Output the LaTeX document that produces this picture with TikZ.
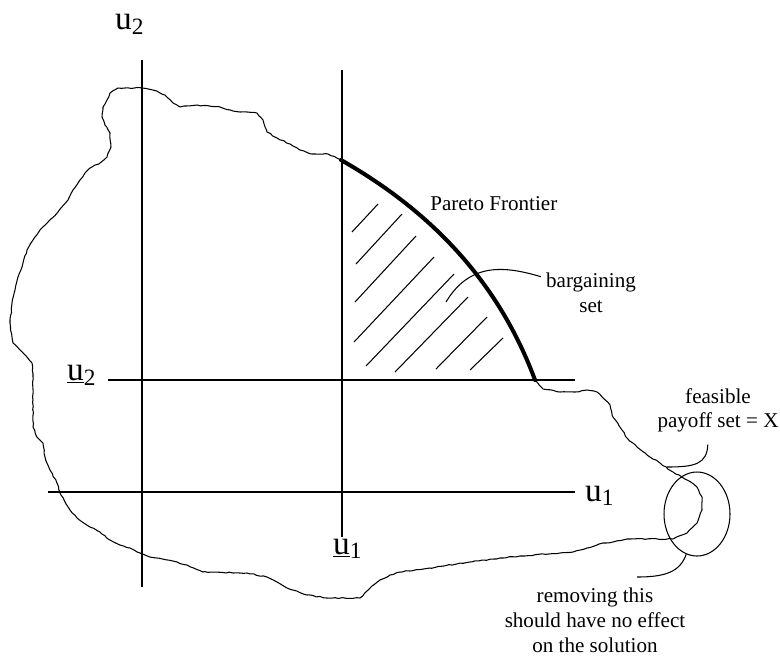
\documentclass[tikz,border=0pt]{standalone}
\usepackage{fontspec}
\setmainfont{Liberation Serif}
\usetikzlibrary{shapes.geometric,decorations.pathmorphing}

\begin{document}
\begin{tikzpicture}[x=0.02cm, y=-0.02cm,
    axis/.style={line width=0.7pt},
    outline/.style={line width=0.6pt, line join=round,
      decorate, decoration={random steps, segment length=2pt, amplitude=0.3pt}},
    frontier/.style={line width=2.3pt, line cap=round},
    hatch/.style={line width=0.6pt},
    leader/.style={line width=0.6pt},
    lbl/.style={font=\fontsize{12}{14}\selectfont, align=center, inner sep=1pt, outer sep=2pt},
    ulbl/.style={font=\fontsize{19}{22}\selectfont, inner sep=1pt}]
  \useasboundingbox (0,0) rectangle (780,657);
  \pgfmathsetseed{7}

  % axes and the disagreement point
  \coordinate (v1top) at (142,60);  \coordinate (v1bot) at (142,587);
  \coordinate (v2top) at (342,70);  \coordinate (v2bot) at (342,537);
  \coordinate (h1left) at (108,380); \coordinate (h1right) at (575,380);
  \coordinate (h2left) at (48,492);  \coordinate (h2right) at (575,492);
  \draw[axis] (v1top) -- (v1bot);
  \draw[axis] (v2top) -- (v2bot);
  \draw[axis] (h1left) -- (h1right);
  \draw[axis] (h2left) -- (h2right);

  % feasible set X
  \coordinate (pA) at (341,160);
  \coordinate (pB) at (535,380);
  \draw[outline] (pB) -- plot coordinates {(543,389) (560,392) (575,392) (587,390)
    (597,392) (603,398) (610,405) (613,417) (622,430) (627,438) (637,447)
    (647,455) (660,463) (673,472) (687,480) (697,487) (702,497) (702,510)
    (697,523) (687,533) (673,539) (627,539) (613,542) (603,543) (587,548)
    (573,552) (560,553) (520,556) (500,558) (470,562) (430,568) (400,572)
    (390,575) (380,580) (370,588) (360,598) (327,598) (307,595) (287,588)
    (277,582) (267,577) (247,573) (203,572) (187,565) (173,561) (150,557)
    (140,553) (130,548) (120,545) (110,540) (100,532) (90,527) (77,518)
    (70,510) (60,493) (57,483) (50,470) (45,457) (43,443) (37,437) (33,427)
    (33,400) (33,377) (32,363) (27,357) (20,350) (13,343) (12,337) (10,323)
    (12,303) (15,290) (18,277) (23,263) (27,250) (33,240) (40,230) (48,222)
    (58,212) (68,200) (73,190) (80,180) (85,173) (92,167) (100,163) (107,157)
    (111,147) (110,133) (105,125) (102,117) (103,107) (107,100) (110,93)
    (118,88) (142,88) (153,90) (165,95) (173,103) (180,107) (197,105)
    (220,107) (233,111) (257,113) (263,120) (267,132) (277,138) (290,144)
    (300,150) (312,154) (328,154)} -- (pA);

  % Pareto frontier
  \draw[frontier] (pA) .. controls (420,205) and (495,272) .. (pB);

  % bargaining set hatching
  \foreach \xa/\ya/\xb/\yb in {352/232/378/204, 356/264/402/214, 355/302/416/236,
      354/342/434/257, 366/366/454/274, 395/372/468/297, 436/369/487/317,
      470/370/503/338}
    \draw[hatch] (\xa,\ya) -- (\xb,\yb);

  % labels
  \node[ulbl, anchor=base west] (u2) at (113,29) {u\textsubscript{2}};
  \node[ulbl, anchor=base west] (u2min) at (65,380) {\underline{u}\textsubscript{2}};
  \node[ulbl, anchor=base west] (u1) at (583,501) {u\textsubscript{1}};
  \node[ulbl, anchor=base west] (u1min) at (331,554) {\underline{u}\textsubscript{1}};
  \node[lbl, anchor=base west] (pareto) at (425,210) {Pareto Frontier};
  \node[lbl, anchor=north] (barg) at (591,268) {bargaining\\set};
  \node[lbl, anchor=north] (feas) at (718,383) {feasible\\payoff set = X};
  \node[lbl, anchor=north] (remove) at (595,583) {removing this\\should have no effect\\on the solution};

  % the cut-off piece
  \node[draw, ellipse, line width=0.6pt, inner sep=0pt,
    minimum width=1.32cm, minimum height=1.68cm] (cut) at (697,514) {};

  % leaders
  \coordinate (bargEnd) at (446,302);
  \coordinate (feasEnd) at (667,467);
  \coordinate (removeEnd) at (637,577);
  \draw[leader] (barg.162) .. controls (505,266) and (470,262) .. (bargEnd);
  \draw[leader, shorten <=4pt] (feas.-110) .. controls (707,464) and (695,467) .. (feasEnd);
  \draw[leader] (cut.-105) .. controls (680,572) and (665,577) .. (removeEnd);
\end{tikzpicture}
\end{document}
